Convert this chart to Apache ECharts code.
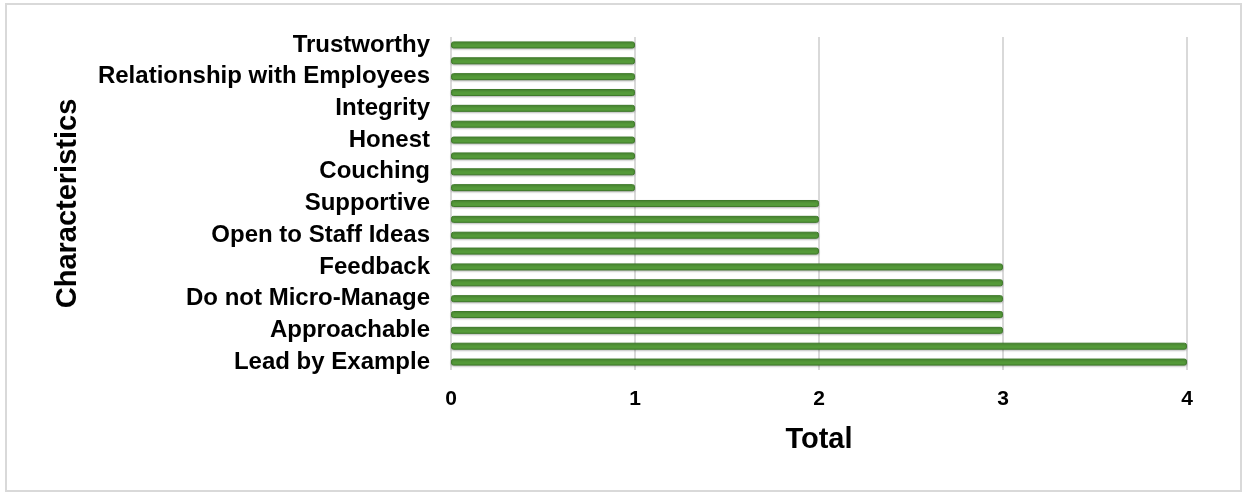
<!DOCTYPE html>
<html>
<head>
<meta charset="utf-8">
<script src="https://cdn.jsdelivr.net/npm/echarts@6/dist/echarts.min.js"></script>
<style>
  html, body { margin: 0; padding: 0; background: #fff; }
  #frame { position: absolute; left: 5px; top: 3px; width: 1237px; height: 489px; border: 2px solid #d9d9d9; box-sizing: border-box; }
  #chart { position: absolute; left: 0; top: 0; width: 1242px; height: 493px; }
</style>
</head>
<body>
<div id="frame"></div>
<div id="chart"></div>
<script>
// Categories listed bottom to top; only every other one carries a printed label.
const categories = [
  'Lead by Example', '', 'Approachable', '', 'Do not Micro-Manage', '',
  'Feedback', '', 'Open to Staff Ideas', '', 'Supportive', '',
  'Couching', '', 'Honest', '', 'Integrity', '',
  'Relationship with Employees', '', 'Trustworthy'
];
const totals = [4, 4, 3, 3, 3, 3, 3, 2, 2, 2, 2, 1, 1, 1, 1, 1, 1, 1, 1, 1, 1];
const totalTicks = [0, 1, 2, 3, 4];

const chart = echarts.init(document.getElementById('chart'));
const font = 'Liberation Sans, Arial, sans-serif';

chart.setOption({
  animation: false,
  grid: { left: 451, right: 55, top: 37, bottom: 123 },
  xAxis: {
    type: 'value',
    min: totalTicks[0],
    max: totalTicks[totalTicks.length - 1],
    interval: 1,
    name: 'Total',
    nameLocation: 'middle',
    nameGap: 55,
    nameTextStyle: { fontFamily: font, fontWeight: 'bold', fontSize: 29, color: '#000' },
    axisLine: { show: false },
    axisTick: { show: false },
    axisLabel: { fontFamily: font, fontWeight: 'bold', fontSize: 21, color: '#000', margin: 19 },
    splitLine: { show: true, lineStyle: { color: '#d9d9d9', width: 2 } }
  },
  yAxis: {
    type: 'category',
    data: categories,
    name: 'Characteristics',
    nameLocation: 'middle',
    nameGap: 369,
    nameRotate: 90,
    nameTextStyle: { fontFamily: font, fontWeight: 'bold', fontSize: 29, color: '#000' },
    axisLine: { show: false },
    axisTick: { show: false },
    axisLabel: { interval: 0, fontFamily: font, fontWeight: 'bold', fontSize: 24, color: '#000', margin: 21 },
    splitLine: { show: false }
  },
  series: [{
    type: 'bar',
    data: totals,
    barWidth: 7,
    itemStyle: {
      color: '#559b3a',
      borderColor: '#3f7a2b',
      borderWidth: 1,
      borderRadius: 2,
      shadowColor: 'rgba(0,0,0,0.25)',
      shadowBlur: 2,
      shadowOffsetY: 1
    }
  }]
});
</script>
</body>
</html>
